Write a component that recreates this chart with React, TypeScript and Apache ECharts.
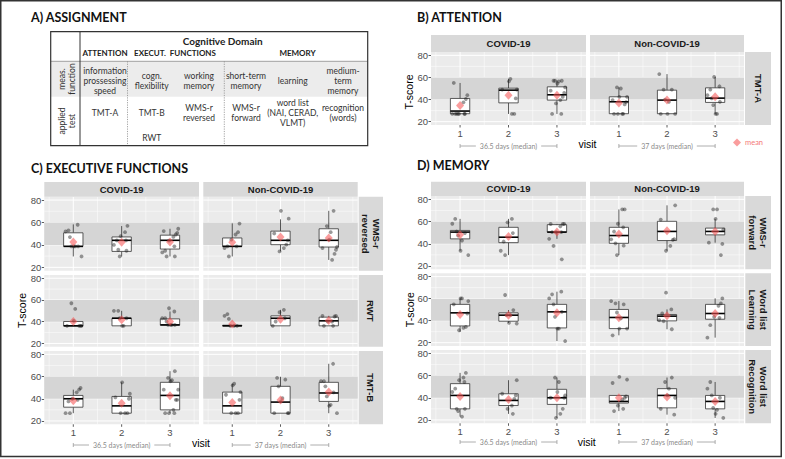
import React, { useEffect, useRef } from 'react';
import * as echarts from 'echarts';

// ---------------- data ----------------
const VISITS = [1, 2, 3];
const GROUPS = ['COVID-19', 'Non-COVID-19'];

// box stats per visit: [min, Q1, median, Q3, max]
const tmtaCovidBox = [[27, 27.2, 29.6, 41, 55], [27, 37, 48.5, 50.3, 58.7], [27, 39.5, 44.3, 51.5, 57.2]];
const tmtaCovidPts = [[55, 44, 40.5, 37.5, 27, 27, 27, 27, 27, 27, 27], [58.7, 56.5, 49, 49, 41, 27, 27], [57, 57, 57, 56.5, 54.5, 51, 48, 46, 42.5, 39.5, 36.5, 27, 27]];
const tmtaCovidMean = [34.7, 44, 44];
const tmtaNonBox = [[27, 27.2, 38, 42.5, 51], [27, 27.2, 39.5, 48.5, 63], [27, 37.4, 41.3, 50.6, 60.5]];
const tmtaNonPts = [[51, 50, 42.5, 42.5, 39.5, 37.7, 35.6, 27, 27, 27, 27], [63, 49, 49, 40, 38, 27, 27, 27], [60.5, 52, 49, 44, 41, 38, 35, 27, 27]];
const tmtaNonMean = [37, 39.5, 42.5];

const wmsrevCovidBox = [[29.7, 38.7, 38.7, 50.8, 58.3], [29.7, 34.2, 44.1, 47.1, 56.8], [29.7, 36.3, 44.1, 48.7, 54.4]];
const wmsrevCovidPts = [[58, 53, 52, 47, 38.7, 38.7, 38.7, 38.7, 29.7], [57, 51.4, 47.8, 44, 44, 40, 35.7, 34.8, 29.7], [54.4, 52.3, 50.8, 49.3, 47.1, 43.8, 38.7, 34.8, 33.3, 29.7, 29.7]];
const wmsrevCovidMean = [42.6, 42.3, 42.6];
const wmsrevNonBox = [[29.7, 38.7, 38.7, 46.2, 59.2], [34.2, 40.2, 44.1, 52.3, 62.8], [26.6, 38.1, 44.1, 54.4, 70.4]];
const wmsrevNonPts = [[59, 51.4, 49.3, 44.7, 38.7, 38.7, 37.2, 29.7], [70.4, 63.4, 50.2, 44.1, 40.2, 37.2, 34.2], [70.4, 56.8, 51.4, 44.7, 38.1, 37.2, 35.7, 32, 26.6]];
const wmsrevNonMean = [42.3, 47.1, 46.2];

const rwtCovidBox = [[36.2, 36.2, 36.2, 40.2, 40.8], [36.2, 36.2, 43.2, 43.2, 50], [36.2, 36.8, 37.1, 42.6, 49.4]];
const rwtCovidPts = [[57, 51.8, 40.8, 36.2, 36.2, 36.2, 36.2], [50, 50, 43.2, 43.2, 36.2, 36.2], [52.4, 49.4, 43.2, 43.2, 40.2, 37, 37, 37, 37]];
const rwtCovidMean = [40.2, 41.7, 40.2];
const rwtNonBox = [[36.2, 36.2, 36.2, 36.8, 36.8], [36.2, 36.2, 43.2, 45.4, 50.9], [36.2, 36.2, 40.8, 44.2, 45.4]];
const rwtNonPts = [[47, 45.4, 42.6, 36.2, 36.2, 36.2], [50.9, 48.7, 43.2, 40.2, 36.2], [45.4, 45.4, 44.8, 40.2, 40.2, 36.2, 36.2]];
const rwtNonMean = [38, 42.3, 41.1];

const tmtbCovidBox = [[27, 32.4, 40, 43, 48.2], [27, 27, 33.6, 42.1, 54.8], [27, 30, 43, 54.8, 64.8]];
const tmtbCovidPts = [[49.7, 48.2, 45.8, 40, 39, 37.6, 27, 27], [54.8, 44.5, 41.2, 40, 27, 27, 27], [64.8, 58.8, 56.7, 55.8, 48.2, 48.2, 39, 39, 30, 27, 27, 27]];
const tmtbCovidMean = [38.2, 36, 42.7];
const tmtbNonBox = [[27, 27, 33.6, 46, 53.6], [27, 27, 37, 51.2, 59.7], [27, 37.6, 45.2, 54.8, 71.5]];
const tmtbNonPts = [[53.6, 52.1, 46, 43.6, 39, 27, 27, 27], [58.8, 57.3, 51.2, 40.6, 37.6, 27, 27, 27], [71.5, 55.8, 55.8, 51.2, 45.8, 42.1, 34.5, 33.6, 27]];
const tmtbNonMean = [36.7, 38.8, 46];

const wmsfwdCovidBox = [[33.7, 44.4, 50.5, 52, 62.4], [29.8, 41, 45.9, 54.8, 62.4], [44.4, 50.5, 50.5, 57.2, 57.8]];
const wmsfwdCovidPts = [[62.4, 58, 51, 49.6, 47.4, 42.9, 33.7, 29.8], [62.4, 59.3, 49.6, 42, 33.7, 29.8], [57.8, 57.8, 57.8, 55.7, 50.5, 50.5, 50.5, 44.4, 38, 26]];
const wmsfwdCovidMean = [48, 46.5, 50.5];
const wmsfwdNonBox = [[29.8, 40.4, 47.4, 54.8, 70.9], [33.7, 42.9, 51.1, 60.2, 74.6], [41, 48, 51.1, 54.1, 62.4]];
const wmsfwdNonPts = [[70.9, 70.9, 58, 54.8, 51, 44, 40.4, 38.3, 29.8], [74.6, 61.8, 44.1, 43.5, 38, 33.7], [70.9, 70.9, 62.4, 52.6, 41, 39.8, 29.8]];
const wmsfwdNonMean = [48.7, 51.7, 51.1];

const learnCovidBox = [[29.8, 35.2, 47.1, 54.8, 60.2], [38, 39.5, 45, 47.1, 49.6], [21.5, 33.4, 48, 54.8, 66.3]];
const learnCovidPts = [[60.2, 60.2, 57.8, 54.8, 46.5, 34.3, 33.4, 31.3], [63.3, 49.6, 45, 45, 38, 37.4], [66.3, 63.9, 60.2, 54.8, 48, 43.5, 32.8, 32.8, 21.5]];
const learnCovidMean = [45.6, 45, 47.1];
const learnNonBox = [[26.7, 32.8, 42.9, 50.2, 57.8], [32.2, 39.8, 44.1, 45.6, 50.2], [24.6, 41.3, 46.5, 54.8, 60.2]];
const learnNonPts = [[57.8, 55.7, 54.8, 47.4, 42, 32.8, 32.8, 26.7], [65.4, 50.2, 46.5, 40.4, 39.5, 32.2], [60.2, 55.7, 53.5, 43.5, 42.6, 35.9, 24.6]];
const learnNonMean = [42.6, 44.4, 46.5];

const recogCovidBox = [[23, 30, 42.1, 52.7, 62.4], [25.5, 33, 37.6, 43.6, 55.8], [21.8, 34, 40, 47.6, 58.2]];
const recogCovidPts = [[62.4, 58.2, 55.8, 54.2, 48.2, 45.2, 30, 30, 28, 23], [55.8, 43.6, 42.1, 39, 33, 30, 25.5], [58.2, 54.2, 45.2, 42.1, 40, 40, 30, 25.5, 21.8]];
const recogCovidMean = [41.2, 38.5, 40];
const recogNonBox = [[28, 35.2, 36.7, 42.1, 42.1], [24.8, 30.9, 42.1, 48.2, 58.2], [21.8, 30, 36.7, 42.1, 54.2]];
const recogNonPts = [[58.8, 56.4, 53.3, 41.2, 40, 38.2, 33, 30, 28], [58.2, 54.2, 48.2, 42.1, 40, 30, 24.8], [54.2, 48.2, 42.1, 40, 30.9, 29.1, 25.5, 21.8]];
const recogNonMean = [40, 40.6, 36.7];

const TEST_LABELS = ['TMT-A', 'WMS-r\nreversed', 'RWT', 'TMT-B', 'WMS-r\nforward', 'Word list\nLearning', 'Word list\nRecognition'];
const TEST_DATA = [
  [[tmtaCovidBox, tmtaCovidPts, tmtaCovidMean], [tmtaNonBox, tmtaNonPts, tmtaNonMean]],
  [[wmsrevCovidBox, wmsrevCovidPts, wmsrevCovidMean], [wmsrevNonBox, wmsrevNonPts, wmsrevNonMean]],
  [[rwtCovidBox, rwtCovidPts, rwtCovidMean], [rwtNonBox, rwtNonPts, rwtNonMean]],
  [[tmtbCovidBox, tmtbCovidPts, tmtbCovidMean], [tmtbNonBox, tmtbNonPts, tmtbNonMean]],
  [[wmsfwdCovidBox, wmsfwdCovidPts, wmsfwdCovidMean], [wmsfwdNonBox, wmsfwdNonPts, wmsfwdNonMean]],
  [[learnCovidBox, learnCovidPts, learnCovidMean], [learnNonBox, learnNonPts, learnNonMean]],
  [[recogCovidBox, recogCovidPts, recogCovidMean], [recogNonBox, recogNonPts, recogNonMean]],
];
const DAYS_LABELS = ['36.5 days (median)', '37 days (median)'];

// ---------------- layout / style ----------------
const FONT_AX = 'Liberation Sans, Arial, sans-serif';
const FONT_CAL = 'Lato, sans-serif';
const X_LO = 0.4, X_HI = 3.6, Y_LO = 17, Y_HI = 83;
const BOX_W = 0.4;
const JITTER = [-0.13, 0.09, -0.04, 0.15, -0.1, 0.04, 0.12, -0.16, 0.01, 0.07, -0.07, 0.17, -0.02, 0.1];

const BD_X = [[431, 586], [590, 744]];
const C_X = [[44.3, 199], [203.3, 357.7]];

const ROWS = [
  { test: 0, cols: BD_X, y: [52, 125], strip: [745, 771], showX: true },
  { test: 1, cols: C_X, y: [196.7, 270.7], strip: [358.7, 383], showX: false },
  { test: 2, cols: C_X, y: [275, 346.7], strip: [358.7, 383], showX: false },
  { test: 3, cols: C_X, y: [351, 424.3], strip: [358.7, 383], showX: true },
  { test: 4, cols: BD_X, y: [196, 269.3], strip: [745.3, 771], showX: false },
  { test: 5, cols: BD_X, y: [273.3, 346], strip: [745.3, 771], showX: false },
  { test: 6, cols: BD_X, y: [350, 423.3], strip: [745.3, 771], showX: true },
];
const TOP_STRIPS = [
  { cols: BD_X, y: [35, 52] },
  { cols: C_X, y: [182, 196.7] },
  { cols: BD_X, y: [181.7, 196] },
];

function makeBg(showX: boolean) {
  return (params: any, api: any) => {
    const [l, t] = api.coord([X_LO, Y_HI]);
    const [r, b] = api.coord([X_HI, Y_LO]);
    const ch: any[] = [];
    ch.push({ type: 'rect', shape: { x: l, y: t, width: r - l, height: b - t }, style: { fill: '#ebebeb' } });
    const hl = (v: number, w: number) => {
      const y = api.coord([1, v])[1];
      ch.push({ type: 'line', shape: { x1: l, y1: y, x2: r, y2: y }, style: { stroke: '#fff', lineWidth: w } });
    };
    const vl = (v: number, w: number) => {
      const x = api.coord([v, 50])[0];
      ch.push({ type: 'line', shape: { x1: x, y1: t, x2: x, y2: b }, style: { stroke: '#fff', lineWidth: w } });
    };
    [30, 50, 70].forEach((v) => hl(v, 0.5));
    [0.5, 1.5, 2.5, 3.5].forEach((v) => vl(v, 0.5));
    [20, 40, 60, 80].forEach((v) => hl(v, 1));
    VISITS.forEach((v) => vl(v, 1));
    const [, bt] = api.coord([1, 60]);
    const [, bb] = api.coord([1, 40]);
    ch.push({ type: 'rect', shape: { x: l, y: bt, width: r - l, height: bb - bt }, style: { fill: '#d5d5d5' } });
    if (showX) {
      VISITS.forEach((v) => {
        const x = api.coord([v, 50])[0];
        ch.push({ type: 'line', shape: { x1: x, y1: b, x2: x, y2: b + 2.5 }, style: { stroke: '#333', lineWidth: 0.8 } });
      });
    }
    return { type: 'group', children: ch };
  };
}

function renderBox(params: any, api: any) {
  const x = api.value(0);
  const lo = api.coord([x, api.value(1)]);
  const q1 = api.coord([x, api.value(2)]);
  const md = api.coord([x, api.value(3)]);
  const q3 = api.coord([x, api.value(4)]);
  const hi = api.coord([x, api.value(5)]);
  const hw = api.size([BOX_W, 0])[0] / 2;
  const cx = md[0];
  const st = { stroke: '#333', lineWidth: 0.8 };
  return {
    type: 'group',
    children: [
      { type: 'line', shape: { x1: cx, y1: hi[1], x2: cx, y2: q3[1] }, style: st },
      { type: 'line', shape: { x1: cx, y1: q1[1], x2: cx, y2: lo[1] }, style: st },
      { type: 'rect', shape: { x: cx - hw, y: q3[1], width: 2 * hw, height: Math.max(q1[1] - q3[1], 0.6) }, style: { fill: '#fff', stroke: '#333', lineWidth: 0.8 } },
      { type: 'line', shape: { x1: cx - hw, y1: md[1], x2: cx + hw, y2: md[1] }, style: { stroke: '#000', lineWidth: 1.6 } },
    ],
  };
}

function buildOption() {
  const grid: any[] = [], xAxis: any[] = [], yAxis: any[] = [], series: any[] = [];
  const g: any[] = [];
  const text = (x: number, y: number, t: string, style: any = {}, extra: any = {}) =>
    g.push({
      type: 'text', x, y, silent: true, z: 20, ...extra,
      style: { text: t, fontSize: 8.5, fontFamily: FONT_CAL, fill: '#333', align: 'center', verticalAlign: 'middle', lineHeight: 10, ...style },
    });
  const line = (x1: number, y1: number, x2: number, y2: number, style: any = {}) =>
    g.push({ type: 'line', silent: true, z: 15, shape: { x1, y1, x2, y2 }, style: { stroke: '#333', lineWidth: 1, ...style } });
  const rect = (x: number, y: number, w: number, h: number, style: any) =>
    g.push({ type: 'rect', silent: true, z: 5, shape: { x, y, width: w, height: h }, style });

  ROWS.forEach((row) => {
    const [y0, y1] = row.y;
    const h = y1 - y0;
    const oy = (h * 3) / 66;
    row.cols.forEach(([x0, x1], gi) => {
      const w = x1 - x0;
      const ox = (w * 0.1) / 3.2;
      const idx = grid.length;
      grid.push({ left: x0 + ox, top: y0 + oy, width: w - 2 * ox, height: h - 2 * oy, outerBoundsMode: 'none' });
      xAxis.push({
        gridIndex: idx, type: 'value', min: 0.5, max: 3.5, interval: 0.5, offset: oy,
        axisLine: { show: false }, axisTick: { show: false }, splitLine: { show: false },
        axisLabel: { show: row.showX, margin: 3, fontSize: 9.5, color: '#4d4d4d', fontFamily: FONT_AX, formatter: (v: number) => (Number.isInteger(v) ? String(v) : '') },
      });
      yAxis.push({
        gridIndex: idx, type: 'value', min: 20, max: 80, interval: 20, offset: ox,
        axisLine: { show: false }, splitLine: { show: false },
        axisTick: { show: gi === 0, length: 2.5, lineStyle: { color: '#333', width: 0.8 } },
        axisLabel: { show: gi === 0, margin: 3, fontSize: 9.5, color: '#4d4d4d', fontFamily: FONT_AX },
      });
      const [box, pts, mean] = TEST_DATA[row.test][gi];
      series.push({ type: 'custom', xAxisIndex: idx, yAxisIndex: idx, silent: true, z: 1, data: [[2, 50]], renderItem: makeBg(row.showX) });
      series.push({
        type: 'custom', xAxisIndex: idx, yAxisIndex: idx, silent: true, z: 2,
        encode: { x: 0, y: [1, 2, 3, 4, 5] },
        data: box.map((b: number[], k: number) => [VISITS[k], ...b]), renderItem: renderBox,
      });
      const pdata: number[][] = [];
      pts.forEach((arr: number[], k: number) => arr.forEach((v, i) => pdata.push([VISITS[k] + JITTER[(i * 3 + k * 5 + gi * 2 + row.test) % JITTER.length], v])));
      series.push({ type: 'scatter', xAxisIndex: idx, yAxisIndex: idx, silent: true, z: 3, symbolSize: 3.8, itemStyle: { color: 'rgba(25,25,25,0.55)' }, data: pdata });
      series.push({
        type: 'scatter', name: 'mean', xAxisIndex: idx, yAxisIndex: idx, silent: true, z: 4, symbol: 'diamond', symbolSize: [8, 9],
        itemStyle: { color: 'rgba(246,80,80,0.7)' }, data: mean.map((m: number, k: number) => [VISITS[k], m]),
      });
      // days annotation under bottom panels
      if (row.showX) {
        const px = (v: number) => x0 + ((v - X_LO) / (X_HI - X_LO)) * w;
        const dy = row.test === 0 ? 146 : row.test === 3 ? 445 : 442;
        const xl = px(1), xr = px(3);
        line(xl, dy, xr, dy, { stroke: '#9a9a9a', lineWidth: 0.8 });
        line(xl, dy - 2, xl, dy + 2, { stroke: '#9a9a9a', lineWidth: 0.8 });
        line(xr, dy - 2, xr, dy + 2, { stroke: '#9a9a9a', lineWidth: 0.8 });
        text((xl + xr) / 2, dy, DAYS_LABELS[gi], { fontSize: 7, fill: '#8a8a8a', backgroundColor: '#fff', padding: [0, 4] });
      }
    });
    // right strip
    const [sx0, sx1] = row.strip;
    rect(sx0, y0, sx1 - sx0, h, { fill: '#d9d9d9' });
    text((sx0 + sx1) / 2, (y0 + y1) / 2, TEST_LABELS[row.test], { fontSize: 9.5, fontWeight: 'bold', fill: '#1a1a1a', fontFamily: FONT_AX, lineHeight: 11 }, { rotation: -Math.PI / 2 });
  });

  TOP_STRIPS.forEach((s) => {
    s.cols.forEach(([x0, x1], gi) => {
      rect(x0, s.y[0], x1 - x0, s.y[1] - s.y[0], { fill: '#d9d9d9' });
      text((x0 + x1) / 2, (s.y[0] + s.y[1]) / 2, GROUPS[gi], { fontSize: 9.5, fontWeight: 'bold', fill: '#1a1a1a', fontFamily: FONT_AX });
    });
  });

  // panel titles
  const title = (x: number, y: number, t: string) => text(x, y, t, { fontSize: 12.5, fontWeight: 'bold', fill: '#111', align: 'left', fontFamily: FONT_CAL });
  title(31, 17, 'A) ASSIGNMENT');
  title(417, 17.5, 'B) ATTENTION');
  title(31, 168.3, 'C) EXECUTIVE FUNCTIONS');
  title(417, 165.7, 'D) MEMORY');

  // axis titles
  const axT = { fontSize: 10.5, fill: '#000', fontFamily: FONT_AX };
  text(409, 92, 'T-score', axT, { rotation: Math.PI / 2 });
  text(22, 310.5, 'T-score', axT, { rotation: Math.PI / 2 });
  text(409.5, 309.7, 'T-score', axT, { rotation: Math.PI / 2 });
  text(587.5, 144, 'visit', axT);
  text(201, 443.3, 'visit', axT);
  text(586.7, 442.3, 'visit', axT);

  // ---- table (panel A) ----
  const TL = 50.7, TR = 367.7, TT = 31.7, TB = 145.7;
  rect(TL, 61.3, TR - TL, 96.7 - 61.3, { fill: '#ececec' });
  line(TL, 61.3, TR, 61.3, { stroke: '#8c8c8c', lineWidth: 0.8 });
  line(80, TT, 80, TB, { stroke: '#333', lineWidth: 1 });
  line(127.5, 61.3, 127.5, TB, { stroke: '#8c8c8c', lineWidth: 0.8, lineDash: [1.2, 1.2] });
  line(224.3, 61.3, 224.3, TB, { stroke: '#8c8c8c', lineWidth: 0.8, lineDash: [1.2, 1.2] });
  g.push({ type: 'rect', silent: true, z: 16, shape: { x: TL, y: TT, width: TR - TL, height: TB - TT }, style: { fill: 'none', stroke: '#333', lineWidth: 1.2 } });
  const hb = { fontWeight: 'bold', fill: '#222' };
  text(222.7, 41.3, 'Cognitive Domain', { ...hb, fontSize: 10 });
  text(105, 53, 'ATTENTION', { ...hb, fontSize: 8 });
  text(175, 53, 'EXECUT.  FUNCTIONS', { ...hb, fontSize: 8 });
  text(297.5, 53, 'MEMORY', { ...hb, fontSize: 8 });
  text(67, 79, 'meas.\nfunction', {}, { rotation: Math.PI / 2 });
  text(67, 121, 'applied\ntest', {}, { rotation: Math.PI / 2 });
  text(105, 80.7, 'information\nprossessing\nspeed');
  text(151.7, 80.7, 'cogn.\nflexibility');
  text(199, 80.7, 'working\nmemory');
  text(246, 80.7, 'short-term\nmemory');
  text(292.7, 80.7, 'learning');
  text(343, 80.7, 'medium-\nterm\nmemory');
  text(105, 113.3, 'TMT-A');
  text(151.7, 113.3, 'TMT-B');
  text(151.7, 137.7, 'RWT');
  text(199, 113.3, 'WMS-r\nreversed');
  text(246, 113.3, 'WMS-r\nforward');
  text(292.7, 113.3, 'word list\n(NAI, CERAD,\nVLMT)');
  text(343, 113.3, 'recognition\n(words)');

  // outer frame
  g.push({ type: 'rect', silent: true, z: 30, shape: { x: 0.75, y: 0.75, width: 780.5, height: 455.75 }, style: { fill: 'none', stroke: '#333', lineWidth: 1.5 } });

  return {
    animation: false,
    backgroundColor: '#fff',
    textStyle: { fontFamily: FONT_AX },
    legend: {
      data: [{ name: 'mean', icon: 'diamond' }], left: 733, top: 138.5, padding: 0, itemWidth: 8, itemHeight: 8, itemGap: 2,
      selectedMode: false, textStyle: { fontSize: 7.5, color: '#f47a7a', fontFamily: FONT_CAL, padding: [0, 0, 0, -1] },
    },
    grid, xAxis, yAxis, series, graphic: g,
  };
}

export default function App() {
  const ref = useRef<HTMLDivElement>(null);
  useEffect(() => {
    const chart = echarts.init(ref.current!, null, { renderer: 'svg' });
    chart.setOption(buildOption() as any);
    return () => chart.dispose();
  }, []);
  return <div ref={ref} style={{ position: 'fixed', left: 0, top: 0, width: 785, height: 459, background: '#fff' }} />;
}
